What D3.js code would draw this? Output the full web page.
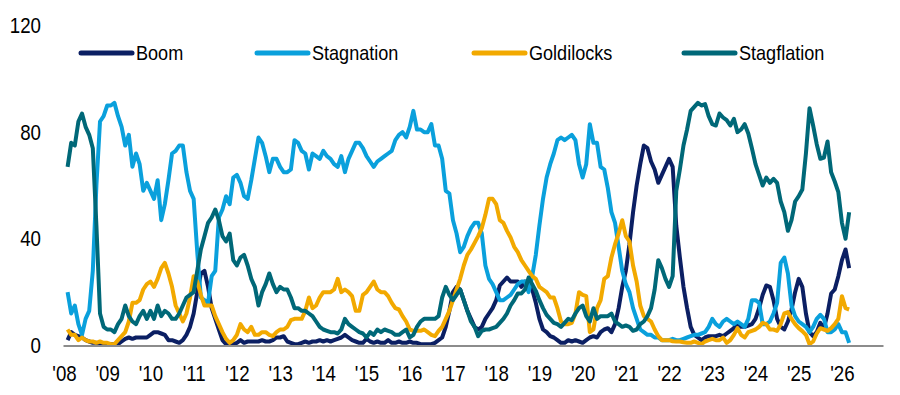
<!DOCTYPE html>
<html>
<head>
<meta charset="utf-8">
<script src="https://cdn.jsdelivr.net/npm/d3@7"></script>
<style>
  body { margin: 0; background: #fff; }
  svg text { font-family: "Liberation Sans Narrow", "Arial Narrow", "Liberation Sans", Arial, sans-serif; fill: #000; }
</style>
</head>
<body>
<script>
// monthly regime probabilities, Jan 2008 - Feb 2026
var startYear = 2008;
var yearTicks = d3.range(2008, 2027);
var yTicks = [0, 40, 80, 120];
var seriesNames = ["Boom", "Stagnation", "Goldilocks", "Stagflation"];
var seriesColors = ["#0b1f63", "#0aa0dc", "#f2a900", "#006878"];

var boom = [2,5,4,3.5,3,2,1.5,1,1,0.5,
  0.5,0.5,0.5,0.5,0.5,1.5,2.5,3,2.5,3,
  3,3,3,4,5,5,4.5,4,2,2,
  1.5,1,2,4,7,12,20,27,28,22,
  14,10,6,2,0.5,0.5,0.5,1,2,1,
  1.5,1.5,1.5,1.5,2,1.5,1.5,2,3,3,
  3.5,1.5,1,0.5,0.5,1,1.5,1,1.5,1.5,
  2,1.5,2,1.5,2,2.5,3,4,3,2,
  1.5,1,1,2.5,1.5,1,1.5,1,1,2,
  1,1,1.5,1,1,1.5,1,1,0.5,0.5,
  0.5,0.5,1,2,3,7,13,20,22,21,
  17,13,10,7,6,7,10,12,14,17,
  22.5,24,25.5,24,24,24,22,24,23,21,
  16,10,6,5,3.5,3,2,1,1,2,
  1.5,2,1.5,1,2,3,3.5,3,5,6,
  6.5,5,8,14,22,28,38,50,60,68,
  75,74,69,66,61,64,67,70,67,45,
  33,22,14,7,4,3,2,3,3.5,3.5,
  3.5,4,3.5,4.5,5.5,6.5,8.5,7,7,7.5,
  8,10,14,19,22.5,22,17,10,7,6,
  9,13.5,20,25,22,12,5,3.5,5,8.5,
  6.5,12,19.5,21,26,32,36,29];

var stagnation = [20,12,15,8,4,10,13,28,60,84,
  86,90,90,91,86,82,75,79,67,72,
  68,58,61,58,55,62,47,53,62,72,
  73,75,75,65,58,55,35,18,17,16,
  26,28,48,51,56,53,63,64,61,56,
  55,62,70,78,76,71,65,70,70,67,
  65,65,66,77,76,73,72,66,72,71,
  70,73,71,70,68,67,71,65,70,73,
  76,76,74,71,69,67,69,70,71,72,
  73,77,79,80,78,82,88,81,81,80,
  80,83,75,75,70,58,57,47,42,35,
  37,41,44,46,46,42,30,25,23,20,
  17,17,18,19,21,23,24,24,20,26,
  34,45,55,63,68,72,77,78,77,78,
  79,77,68,63,68,83,76,76,67,66,
  59,50,46,37,28,23,20,14,10,6,
  5,4,4,3,3,2,2,2,2.5,2,
  2,2.5,3,3.5,4,4,4.5,5,7,10,
  8,7,9,10,9,8,9,8,7,10,
  17,17,16,8,8,9,12,16,31,33,
  27,15,11,9,8,7,5,7,10,11.5,
  10,5,5,6,8,5,5,1];

var goldilocks = [6,4,4,2,3,2,1.5,1.5,1,1.5,
  1,1,0.5,0.5,2,3.5,5,9,16,16,
  17,21,23,24,22,25,29,31,27,22,
  15,12,9,12,18,26,24,19,15,15,
  15,11,8,5,2.5,1,2,4,8,6,
  5,7,4,4,5,5,4,3.5,5,6,
  6,7,9.5,10,10,10,13,18,14,15,
  18,20,20,20,21,25,20,21,20,18.5,
  13,13,19,20,22,24,21,20,20,18.5,
  16,14,13.5,11,9,6,5.5,5.5,5.5,6,
  5,4,3.5,5.5,7,10,13,17,21,25,
  30,34,36,38.5,41,44,49,55,55,53,
  47,46,43,40.5,37,35,32,30,28,26,
  25,22,21,20,18,18,14,9,8,8,
  8.5,12,20,19,18.5,5,6,14,17,25,
  26,33,38,42,47,41,39,30,24,15,
  11,10,9,6,3.5,2,2,2,1.6,1.5,
  1.5,1.2,1,1,1.5,1,0.5,1.5,2,2.5,
  2,2,3,1,2,4,6.5,4,3,5,
  5.5,6,7,8.5,8,6,6,5.5,8,12,
  12.5,10,8,6.5,5.4,4,0.5,1.5,4.5,6.5,
  6,5.5,6.5,8,10,18.5,14,13.5];

var stagflation = [67,76,75,84,87,82,79,74,45,12,
  7,6,6,5,8,10,15,11,9,8,
  11,13,10,13,10,15,11,13,12,10,
  10,12,15,18,19,20,28,36,41,46,
  48,51,47,41,39,42,32,30,33,34,
  30,25,22,15,20,23,27,23,20,22,
  21,21,18,14,14,13,13,12,11,9,
  7,6,5.5,5,5,4.5,6,10,8,7,
  6,5,4.5,3,5,4,6,5,6,5.5,
  5,4,4,5,6,3,4,7,9,10,
  10,10,10,11,18,22,19,17,19,21,
  17,13,9,7,3.5,5.5,6,6,6.5,7,
  8.5,10,12,15,17,19.5,19.5,21,25.5,23,
  20.5,17,14,11.5,10,8.5,8,7,8.5,10,
  9.5,12,14,15,11,9,14,10,11,11,
  11,12,9,8,7,7.5,7,5.5,6,8,
  9,11,14,21,32,29,25,22,26,58,
  66,75,81,88,89.5,91,90,90.5,86,83,
  82.5,87,85.5,84.5,82.5,85,80,81,83,79.5,
  74,68,64,60,63,61,62.5,61,54,50,
  43,47,54,56,58.5,72,89,82.5,75.5,70,
  70.5,76.5,65,61.5,57.5,46,40,50];

var allSeries = [boom, stagnation, goldilocks, stagflation];

var width = 900, height = 395;

var x = d3.scaleLinear().domain([2007.977, 2026.95]).range([63, 883]);
var y = d3.scaleLinear().domain([0, 120]).range([345.5, 25.5]);

var svg = d3.select('body').append('svg')
    .attr('width', width)
    .attr('height', height);

// squeeze text to look like a narrow face (no narrow font installed)
function narrow(sel, k) {
  sel.each(function () {
    var w = this.getComputedTextLength();
    d3.select(this)
      .attr('textLength', w * k)
      .attr('lengthAdjust', 'spacingAndGlyphs');
  });
}

// y axis: labels only
svg.append('g')
    .attr('transform', 'translate(41,0)')
    .call(d3.axisLeft(y).tickValues(yTicks).tickSize(0).tickPadding(0))
    .call(function (g) { g.select('.domain').remove() })
    .selectAll('text')
      .style('font-size', '22px')
      .call(narrow, 0.85);

// series lines (month-end positions)
var line = d3.line()
    .x(function (d, i) { return x(startYear + (i + 1) / 12) })
    .y(function (d) { return y(d) });

svg.selectAll('path.series')
    .data(allSeries)
    .enter()
  .append('path')
    .attr('class', 'series')
    .attr('d', line)
    .attr('fill', 'none')
    .attr('stroke', function (d, i) { return seriesColors[i] })
    .attr('stroke-width', 4)
    .attr('stroke-linejoin', 'round');

// x axis
var xAxis = svg.append('g')
    .attr('transform', 'translate(0,' + y(0) + ')')
    .call(d3.axisBottom(x)
      .tickValues(yearTicks)
      .tickFormat(function (d) { return "'" + String(d).slice(2) })
      .tickSize(0)
      .tickPadding(20));
xAxis.select('.domain')
    .attr('stroke', '#8c8c8c')
    .attr('stroke-width', 2);
xAxis.selectAll('text')
    .style('font-size', '22px')
    .call(narrow, 0.85);

// legend
var legendX = [81, 257, 474, 684];
var legend = svg.selectAll('g.legend')
    .data(seriesNames)
    .enter()
  .append('g')
    .attr('class', 'legend')
    .attr('transform', function (d, i) { return 'translate(' + legendX[i] + ',53)' });
legend.append('line')
    .attr('x1', 0).attr('x2', 51)
    .attr('stroke', function (d, i) { return seriesColors[i] })
    .attr('stroke-width', 5)
    .attr('stroke-linecap', 'round');
legend.append('text')
    .attr('x', 55)
    .attr('dy', '0.35em')
    .style('font-size', '21px')
    .text(function (d) { return d })
    .call(narrow, 0.86);
</script>
</body>
</html>
